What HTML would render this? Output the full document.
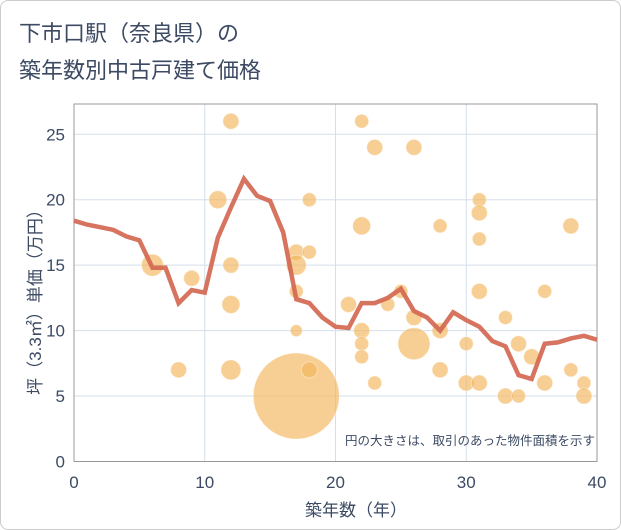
<!DOCTYPE html>
<html><head><meta charset="utf-8"><style>
body{margin:0;background:#fff;}
#wrap{position:relative;width:619px;height:528px;border:1px solid #ccc;border-radius:8px;overflow:hidden;font-family:"Liberation Sans","Noto Sans CJK JP",sans-serif;}
</style></head><body>
<div id="wrap">
<svg id="chart" width="621" height="530"></svg>
</div>
<script>
const lineYears=[0,1,2,3,4,5,6,7,8,9,10,11,12,13,14,15,16,17,18,19,20,21,22,23,24,25,26,27,28,29,30,31,32,33,34,35,36,37,38,39,40];
const lineValues=[18.4,18.1,17.9,17.7,17.2,16.9,14.8,14.8,12.1,13.1,12.9,17.1,19.4,21.6,20.3,19.9,17.5,12.4,12.1,11.0,10.3,10.2,12.1,12.1,12.5,13.2,11.5,11.0,10.0,11.4,10.8,10.3,9.2,8.8,6.6,6.3,9.0,9.1,9.4,9.6,9.3];
const bubbleYears=[6,9,8,11,12,12,12,12,17,17,17,17,17,18,18,18,21,22,22,22,22,22,23,23,24,25,26,26,26,28,28,28,30,30,31,31,31,31,31,33,33,34,34,35,36,36,38,38,39,39];
const bubbleValues=[15,14,7,20,26,15,12,7,16,15,13,10,5,16,20,7,12,26,18,10,9,8,24,6,12,13,24,11,9,18,10,7,9,6,20,19,17,13,6,11,5,5,9,8,13,6,18,7,6,5];
const bubbleSizes=[11,8,8,9,8,8,9,10,8,10,7,6,43,7,7,8,8,7,9,8,7,7,8,7,7,7,8,8,16,7,8,8,7,8,7,8,7,8,8,7,8,7,8,8,7,8,8,7,7,8];
const xTicks=[0,10,20,30,40];
const yTicks=[0,5,10,15,20,25];
const NS="http://www.w3.org/2000/svg";
const svg=document.getElementById('chart');
const X0=73,X1=596,Y0=460.5,YTOP=133.3;
const xs=v=>X0+(X1-X0)*v/40;
const ys=v=>Y0-(Y0-YTOP)*v/25;
function mk(tag,attrs,parent){const e=document.createElementNS(NS,tag);for(const k in attrs)e.setAttribute(k,attrs[k]);(parent||svg).appendChild(e);return e;}
// titles
let t=mk('text',{x:18,y:40,'font-size':22,fill:'#3c4a63'});t.textContent='下市口駅（奈良県）の';


t=mk('text',{x:18,y:77,'font-size':22,fill:'#3c4a63'});t.textContent='築年数別中古戸建て価格';


// grid
for(const v of xTicks){const l=mk('line',{x1:xs(v),x2:xs(v),y1:103,y2:Y0,stroke:'#d5dfea','stroke-width':1});


const tx=mk('text',{x:xs(v),y:487,'font-size':17,fill:'#3c4a63','text-anchor':'middle'});tx.textContent=v;

}
for(const v of yTicks){const l=mk('line',{x1:X0,x2:X1,y1:ys(v),y2:ys(v),stroke:'#d5dfea','stroke-width':1});


const tx=mk('text',{x:64,y:ys(v)+6,'font-size':17,fill:'#3c4a63','text-anchor':'end'});tx.textContent=v;

}
let fr=mk('rect',{x:X0,y:103,width:X1-X0,height:Y0-103,fill:'none',stroke:'#999','stroke-width':1});


// bubbles
for(let i=0;i<bubbleYears.length;i++){const c=mk('circle',{cx:xs(bubbleYears[i]),cy:ys(bubbleValues[i]),r:bubbleSizes[i],fill:'#f2b65a','fill-opacity':0.65,stroke:'#fff','stroke-opacity':0.4});

}
// line
const p=mk('polyline',{points:lineYears.map((y,i)=>xs(y)+','+ys(lineValues[i])).join(' '),fill:'none',stroke:'#d2654f','stroke-width':4.5,'stroke-opacity':0.9,'stroke-linejoin':'miter'});


// note
t=mk('text',{x:594,y:444,'font-size':12.5,fill:'#3c4a63','text-anchor':'end'});t.textContent='円の大きさは、取引のあった物件面積を示す';


// axis titles
t=mk('text',{x:355,y:515,'font-size':17,fill:'#3c4a63','text-anchor':'middle'});t.textContent='築年数（年）';


t=mk('text',{x:0,y:0,'font-size':17,fill:'#3c4a63','text-anchor':'middle',transform:'translate(40,297) rotate(-90)'});t.textContent='坪（3.3㎡）単価（万円）';


</script>
</body></html>
